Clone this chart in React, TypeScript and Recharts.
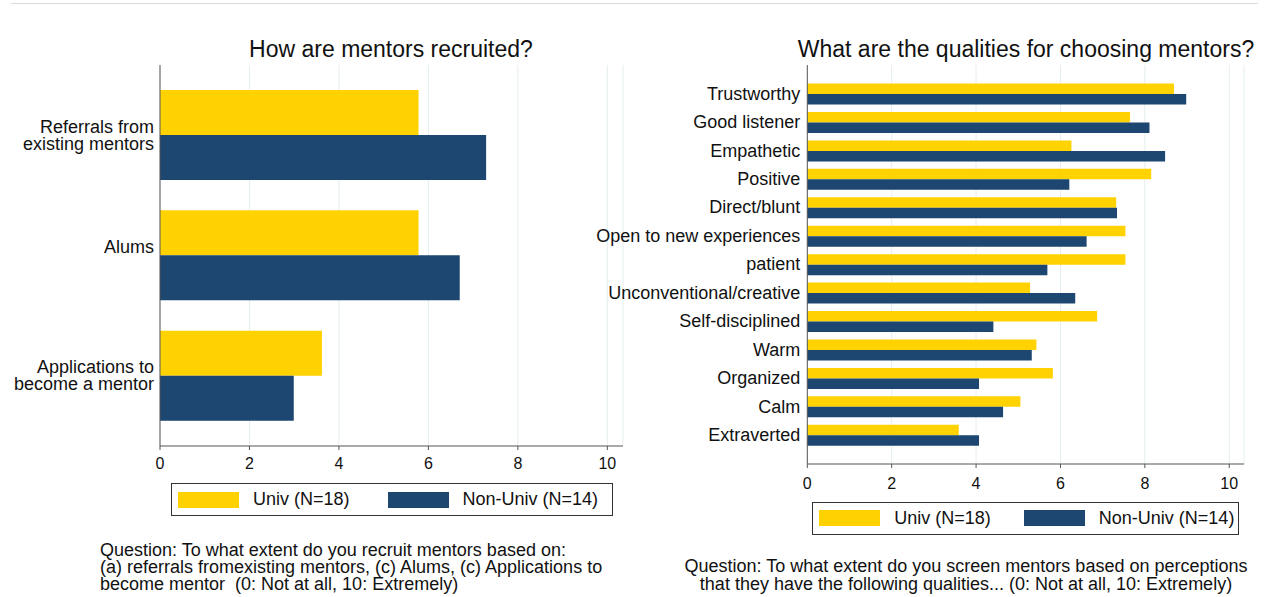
import React from "react";
import { Bar, BarChart, CartesianGrid, Legend, XAxis, YAxis } from "recharts";

const recruitCategories = [
	"Referrals from existing mentors",
	"Alums",
	"Applications to become a mentor",
];
// Stata wraps the labels; "Alums" sits on the first line of a two-line slot
const recruitTickLines = [
	["Referrals from", "existing mentors"],
	["Alums", ""],
	["Applications to", "become a mentor"],
];
const recruitUniv = [5.78, 5.78, 3.62];
const recruitNonUniv = [7.29, 6.7, 2.99];

const qualityCategories = [
	"Trustworthy",
	"Good listener",
	"Empathetic",
	"Positive",
	"Direct/blunt",
	"Open to new experiences",
	"patient",
	"Unconventional/creative",
	"Self-disciplined",
	"Warm",
	"Organized",
	"Calm",
	"Extraverted",
];
const qualityUniv = [8.69, 7.65, 6.26, 8.15, 7.32, 7.54, 7.54, 5.28, 6.87, 5.43, 5.82, 5.05, 3.59];
const qualityNonUniv = [8.98, 8.11, 8.48, 6.21, 7.34, 6.62, 5.69, 6.35, 4.41, 5.32, 4.07, 4.64, 4.07];

const xTicks = [0, 2, 4, 6, 8, 10];
const seriesNames = ["Univ (N=18)", "Non-Univ (N=14)"];

const recruitNote = [
	"Question: To what extent do you recruit mentors based on:",
	"(a) referrals fromexisting mentors, (c) Alums, (c) Applications to",
	"become mentor  (0: Not at all, 10: Extremely)",
];
const qualityNote = [
	"Question: To what extent do you screen mentors based on perceptions",
	"that they have the following qualities... (0: Not at all, 10: Extremely)",
];

const FONT = '"Liberation Sans", Arial, Helvetica, sans-serif';
const YELLOW = "#FFD200";
const NAVY = "#1D4670";
const AXIS = "#555555";
const GRID = "#e4edf0";
const LINE_H = 17.3;

const recruitData = recruitCategories.map((name, i) => ({
	name,
	univ: recruitUniv[i],
	nonUniv: recruitNonUniv[i],
}));

const qualityData = qualityCategories.map((name, i) => ({
	name,
	univ: qualityUniv[i],
	nonUniv: qualityNonUniv[i],
}));

function CategoryTick({ x, y, lines }: any) {
	const first = 6 - ((lines.length - 1) * LINE_H) / 2;
	return (
		<text x={x} y={y} textAnchor="end" fontSize={18} fill="#111" fontFamily={FONT}>
			{lines.map((line: string, i: number) => (
				<tspan key={i} x={x} dy={i === 0 ? first : LINE_H}>
					{line}
				</tspan>
			))}
		</text>
	);
}

function LegendBox({ payload, itemGap }: any) {
	// keep the series order, not the alphabetical one
	const items = [...(payload || [])].sort(
		(a: any, b: any) => seriesNames.indexOf(a.value) - seriesNames.indexOf(b.value),
	);
	return (
		<div
			style={{
				boxSizing: "border-box",
				height: 33,
				border: "1px solid #333",
				background: "#fff",
				display: "flex",
				alignItems: "center",
				paddingLeft: 6,
				fontFamily: FONT,
				fontSize: 18,
				color: "#111",
				whiteSpace: "nowrap",
			}}
		>
			{items.map((entry: any, i: number) => (
				<div
					key={entry.value}
					style={{ display: "flex", alignItems: "center", marginLeft: i === 0 ? 0 : itemGap }}
				>
					<div style={{ width: 61, height: 16, background: entry.color, marginRight: 14 }} />
					<span>{entry.value}</span>
				</div>
			))}
		</div>
	);
}

function Title({ text, center }: { text: string; center: number }) {
	return (
		<div
			style={{
				position: "absolute",
				left: center - 300,
				width: 600,
				top: 37.5,
				textAlign: "center",
				fontSize: 23,
				lineHeight: "23px",
				color: "#111",
				whiteSpace: "nowrap",
			}}
		>
			{text}
		</div>
	);
}

function Note({ lines, left, top, width, align }: any) {
	return (
		<div
			style={{
				position: "absolute",
				left,
				top,
				width,
				fontSize: 18,
				lineHeight: `${LINE_H}px`,
				color: "#111",
				textAlign: align,
				whiteSpace: "pre",
			}}
		>
			{lines.map((line: string) => (
				<div key={line}>{line}</div>
			))}
		</div>
	);
}

export default function App() {
	return (
		<div
			style={{
				position: "absolute",
				left: 0,
				top: 0,
				width: 1267,
				height: 597,
				background: "#fff",
				fontFamily: FONT,
				overflow: "hidden",
			}}
		>
			<div
				style={{ position: "absolute", left: 11, top: 3, width: 1247, height: 1, background: "#d9dcdd" }}
			/>

			<Title text="How are mentors recruited?" center={391} />
			<Title text="What are the qualities for choosing mentors?" center={1026} />

			<div style={{ position: "absolute", left: 0, top: 0 }}>
				<BarChart
					width={640}
					height={520}
					data={recruitData}
					layout="vertical"
					barGap={0}
					margin={{ top: 65, right: 17, bottom: 0, left: 0 }}
				>
					<CartesianGrid horizontal={false} stroke={GRID} />
					<XAxis
						type="number"
						domain={[0, 10.35]}
						ticks={xTicks}
						interval={0}
						height={74}
						stroke={AXIS}
						tickSize={4}
						tickMargin={8}
						tick={{ fontSize: 16, fill: "#111", fontFamily: FONT }}
					/>
					<YAxis
						type="category"
						dataKey="name"
						width={160}
						padding={{ top: 10, bottom: 10 }}
						stroke={AXIS}
						tickLine={false}
						tickSize={0}
						tickMargin={6}
						interval={0}
						tick={(props: any) => (
							<CategoryTick {...props} lines={recruitTickLines[props.payload.index]} />
						)}
					/>
					<Legend
						verticalAlign="middle"
						align="center"
						layout="horizontal"
						width={442}
						wrapperStyle={{ left: 171, top: 483, width: 442 }}
						content={(props: any) => <LegendBox payload={props.payload} itemGap={38} />}
					/>
					<Bar dataKey="univ" name={seriesNames[0]} fill={YELLOW} barSize={45} isAnimationActive={false} />
					<Bar dataKey="nonUniv" name={seriesNames[1]} fill={NAVY} barSize={45} isAnimationActive={false} />
				</BarChart>
			</div>

			<div style={{ position: "absolute", left: 570, top: 0 }}>
				<BarChart
					width={697}
					height={540}
					data={qualityData}
					layout="vertical"
					barGap={0}
					margin={{ top: 65, right: 23, bottom: 0, left: 0 }}
				>
					<CartesianGrid horizontal={false} stroke={GRID} />
					<XAxis
						type="number"
						domain={[0, 10.35]}
						ticks={xTicks}
						interval={0}
						height={76}
						stroke={AXIS}
						tickSize={4}
						tickMargin={10}
						tick={{ fontSize: 16, fill: "#111", fontFamily: FONT }}
					/>
					<YAxis
						type="category"
						dataKey="name"
						width={237.3}
						padding={{ top: 14.5, bottom: 14.8 }}
						stroke={AXIS}
						tickLine={false}
						tickSize={0}
						tickMargin={7}
						interval={0}
						tick={(props: any) => <CategoryTick {...props} lines={[props.payload.value]} />}
					/>
					<Legend
						verticalAlign="middle"
						align="center"
						layout="horizontal"
						width={427}
						wrapperStyle={{ left: 242.3, top: 501.7, width: 427 }}
						content={(props: any) => <LegendBox payload={props.payload} itemGap={33} />}
					/>
					<Bar dataKey="univ" name={seriesNames[0]} fill={YELLOW} barSize={10.5} isAnimationActive={false} />
					<Bar dataKey="nonUniv" name={seriesNames[1]} fill={NAVY} barSize={10.5} isAnimationActive={false} />
				</BarChart>
			</div>

			<Note lines={recruitNote} left={100} top={541.6} align="left" />
			<Note lines={qualityNote} left={666} top={558.3} width={600} align="center" />
		</div>
	);
}
